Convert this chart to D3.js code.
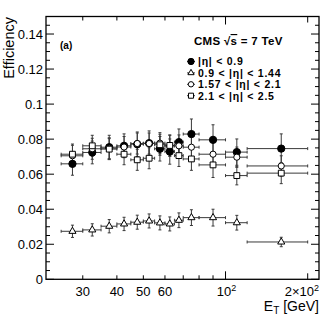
<!DOCTYPE html>
<html>
<head>
<meta charset="utf-8">
<script src="https://cdn.jsdelivr.net/npm/d3@7"></script>
<style>
  body { margin: 0; background: #fff; }
  text { font-family: "Liberation Sans", Arial, sans-serif; fill: #000; }
</style>
</head>
<body>
<svg id="chart" width="332" height="321"></svg>
<script>
// E_T bins [GeV]
const binLo = [25, 30, 35, 40, 45, 50, 55, 60, 65, 70, 80, 100, 120]
const binHi = [30, 35, 40, 45, 50, 55, 60, 65, 70, 80, 100, 120, 200]
const etCenter = [27.5, 32.5, 37.5, 42.5, 47.5, 52.5, 57.5, 62.5, 67.5, 75, 90, 110, 160]

// |eta| < 0.9
const effBarrel = [0.0659, 0.0724, 0.0754, 0.0762, 0.0771, 0.0777, 0.0745, 0.0729, 0.0783, 0.0829, 0.0796, 0.0726, 0.0746]
const errBarrel = [0.0065, 0.0065, 0.0068, 0.0068, 0.007, 0.007, 0.007, 0.0072, 0.0075, 0.0086, 0.0086, 0.0075, 0.0084]
// 0.9 < |eta| < 1.44
const effTrans = [0.0274, 0.0282, 0.0303, 0.0316, 0.0326, 0.0333, 0.0322, 0.0316, 0.0337, 0.0352, 0.0352, 0.0323, 0.0213]
const errTrans = [0.0035, 0.0035, 0.0038, 0.0038, 0.004, 0.004, 0.004, 0.004, 0.0042, 0.0045, 0.0048, 0.0042, 0.0027]
// 1.57 < |eta| < 2.1
const effEndcap = [0.0705, 0.0745, 0.0748, 0.0755, 0.0775, 0.0775, 0.0777, 0.0762, 0.0762, 0.0754, 0.0714, 0.0697, 0.0647]
const errEndcap = [0.006, 0.006, 0.006, 0.006, 0.006, 0.006, 0.006, 0.006, 0.0062, 0.0065, 0.0068, 0.0058, 0.0058]
// 2.1 < |eta| < 2.5
const effForward = [0.0714, 0.0762, 0.0743, 0.0714, 0.0682, 0.0691, 0.0768, 0.0764, 0.0706, 0.0687, 0.0653, 0.0592, 0.0606]
const errForward = [0.0058, 0.006, 0.006, 0.006, 0.006, 0.006, 0.006, 0.006, 0.0062, 0.0065, 0.0072, 0.0053, 0.006]

const legendLabels = ['|η| < 0.9', '0.9 < |η| < 1.44', '1.57 < |η| < 2.1', '2.1 < |η| < 2.5']
const yTickLabels = ['0', '0.02', '0.04', '0.06', '0.08', '0.1', '0.12', '0.14']
const xTickValues = [30, 40, 50, 60, 70, 80, 90, 100, 200]
const xTickLabels = ['30', '40', '50', '60', '', '', '', '10^2', '2×10^2']

const pLeft = 46, pRight = 319, pTop = 16.5, pBottom = 279.3

const x = d3.scaleLog().domain([22, 220]).range([pLeft, pRight])
const y = d3.scaleLinear().domain([0, 0.15]).range([pBottom, pTop])

const svg = d3.select('#chart')

const series = [
  { eff: effBarrel, err: errBarrel, shape: d3.symbolCircle, size: 42, fill: '#000' },
  { eff: effTrans, err: errTrans, shape: d3.symbolTriangle, size: 22, fill: '#fff' },
  { eff: effEndcap, err: errEndcap, shape: d3.symbolCircle, size: 30, fill: '#fff' },
  { eff: effForward, err: errForward, shape: d3.symbolSquare, size: 34, fill: '#fff' },
]

// error bars
const bars = svg.append('g').attr('stroke', '#3a3a3a').attr('stroke-width', 1).attr('fill', 'none')
series.forEach((s) => {
  const g = bars.append('g')
  s.eff.forEach((v, i) => {
    const cx = x(etCenter[i]), cy = y(v)
    const x0 = x(binLo[i]), x1 = x(binHi[i])
    const y0 = y(v - s.err[i]), y1 = y(v + s.err[i])
    g.append('path').attr('d', `M${x0},${cy}H${x1}M${cx},${y0}V${y1}` +
      `M${x0},${cy - 1.5}v3M${x1},${cy - 1.5}v3M${cx - 1.5},${y0}h3M${cx - 1.5},${y1}h3`)
  })
})

// markers
series.forEach((s) => {
  svg.append('g').selectAll('path')
    .data(s.eff)
    .join('path')
    .attr('transform', (d, i) => `translate(${x(etCenter[i])},${y(d)})`)
    .attr('d', d3.symbol(s.shape, s.size))
    .attr('fill', s.fill)
    .attr('stroke', '#000')
    .attr('stroke-width', 1)
})

// axes: ticks inward on all four sides
const yMinor = d3.range(0, 0.1501, 0.005)
const yMajor = yTickLabels.map(Number)
const axes = svg.append('g').attr('stroke', '#000').attr('stroke-width', 1)
yMinor.forEach((v) => {
  const isMajor = yMajor.some((m) => Math.abs(m - v) < 1e-9)
  const len = isMajor ? 8 : 4
  axes.append('line').attr('x1', pLeft).attr('x2', pLeft + len).attr('y1', y(v)).attr('y2', y(v))
  axes.append('line').attr('x1', pRight).attr('x2', pRight - len).attr('y1', y(v)).attr('y2', y(v))
})
xTickValues.forEach((v) => {
  const len = v === 100 ? 8 : (v === 200 ? 6 : 4)
  axes.append('line').attr('x1', x(v)).attr('x2', x(v)).attr('y1', pBottom).attr('y2', pBottom - len)
  axes.append('line').attr('x1', x(v)).attr('x2', x(v)).attr('y1', pTop).attr('y2', pTop + len)
})
svg.append('rect')
  .attr('x', pLeft).attr('y', pTop)
  .attr('width', pRight - pLeft).attr('height', pBottom - pTop)
  .attr('fill', 'none').attr('stroke', '#000').attr('stroke-width', 1.3)

// y tick labels
svg.append('g').selectAll('text')
  .data(yTickLabels)
  .join('text')
  .attr('x', pLeft - 3)
  .attr('y', (d) => y(+d) + 4.6)
  .attr('text-anchor', 'end')
  .attr('font-size', 13)
  .text((d) => d)

// x tick labels (with superscripts)
xTickValues.forEach((v, i) => {
  const lab = xTickLabels[i]
  if (!lab) return
  const t = svg.append('text')
    .attr('y', 295.5)
    .attr('font-size', 13)
  if (lab.includes('^')) {
    const [base, sup] = lab.split('^')
    t.append('tspan').text(base)
    t.append('tspan').attr('dy', -5).attr('font-size', 9).text(sup)
    if (v === 200) t.attr('x', pRight).attr('text-anchor', 'end')
    else t.attr('x', x(v) + 1).attr('text-anchor', 'middle')
  } else {
    t.attr('x', x(v)).attr('text-anchor', 'middle').text(lab)
  }
})

// axis titles
svg.append('text')
  .attr('transform', `translate(14,${pTop + 0.5}) rotate(-90)`)
  .attr('text-anchor', 'end')
  .attr('font-size', 14.5)
  .text('Efficiency')

const xt = svg.append('text')
  .attr('x', pRight).attr('y', 311)
  .attr('text-anchor', 'end')
  .attr('font-size', 14)
xt.append('tspan').text('E')
xt.append('tspan').attr('dy', 3).attr('font-size', 10).text('T')
xt.append('tspan').attr('dy', -3).text(' [GeV]')

// panel tag
svg.append('text')
  .attr('x', 60).attr('y', 48.5)
  .attr('font-size', 10).attr('font-weight', 'bold')
  .text('(a)')

// legend
const cms = svg.append('text')
  .attr('x', 194).attr('y', 45)
  .attr('font-size', 11.5).attr('font-weight', 'bold')
  .attr('letter-spacing', 0.3)
cms.append('tspan').text('CMS √')
cms.append('tspan').attr('text-decoration', 'overline').text('s')
cms.append('tspan').text(' = 7 TeV')

const leg = svg.append('g')
legendLabels.forEach((lab, i) => {
  const cy = 61.5 + i * 11.4
  const s = series[i]
  leg.append('line')
    .attr('x1', 187).attr('x2', 195).attr('y1', cy).attr('y2', cy)
    .attr('stroke', '#3a3a3a')
  leg.append('path')
    .attr('transform', `translate(191,${cy})`)
    .attr('d', d3.symbol(s.shape, s.size * 0.75))
    .attr('fill', s.fill)
    .attr('stroke', '#000')
  leg.append('text')
    .attr('x', 198).attr('y', cy + 3.8)
    .attr('font-size', 10.5).attr('font-weight', 'bold')
    .attr('letter-spacing', 0.75)
    .text(lab)
})
</script>
</body>
</html>
